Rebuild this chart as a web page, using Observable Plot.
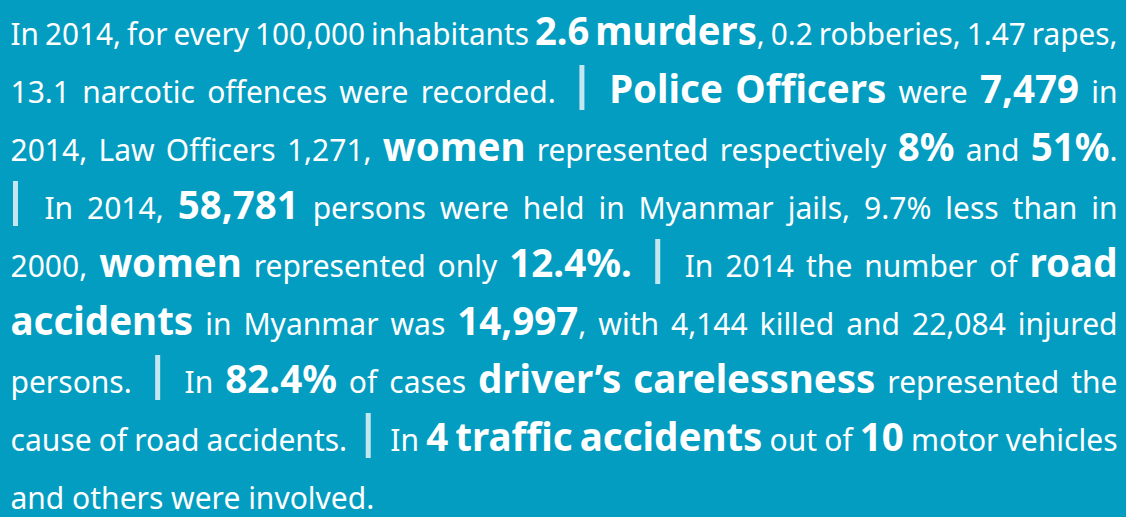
<!DOCTYPE html>
<html><head><meta charset="utf-8">
<script src="https://cdn.jsdelivr.net/npm/d3@7"></script>
<script src="https://cdn.jsdelivr.net/npm/@observablehq/plot@0.6"></script>
<style>html,body{margin:0;padding:0;background:#039dc1;overflow:hidden}</style>
</head><body><div id="chart"></div>
<script>
// Text of the infographic, one entry per printed line; **…** = highlighted (bold) figures, | = separator bar
const lines = [
  "In 2014, for every 100,000 inhabitants **2.6 murders**, 0.2 robberies, 1.47 rapes,",
  "13.1 narcotic offences were recorded. | **Police Officers** were **7,479** in",
  "2014, Law Officers 1,271, **women** represented respectively **8%** and **51%**.",
  "| In 2014, **58,781** persons were held in Myanmar jails, 9.7% less than in",
  "2000, **women** represented only **12.4%.** | In 2014 the number of **road**",
  "**accidents** in Myanmar was **14,997**, with 4,144 killed and 22,084 injured",
  "persons. | In **82.4%** of cases **driver’s carelessness** represented the",
  "cause of road accidents. | In **4 traffic accidents** out of **10** motor vehicles",
  "and others were involved."
];

const W = 1126, H = 517;
const FONT = "'Noto Sans', sans-serif";
const REG = 30, BOLD = 38.5;
const left = 10, right = 1117;
const base0 = 44, step = 58;
const barW = 5, barPad = 12;

const ctx = document.createElement("canvas").getContext("2d");
function measure(t, bold) { ctx.font = `${bold ? 700 : 400} ${bold ? BOLD : REG}px ${FONT}`; return ctx.measureText(t).width; }

function parse(line) {
  const words = []; let cur = null;
  line.split("**").forEach((part, pi) => {
    const bold = pi % 2 === 1;
    part.split(" ").forEach((t, ti) => {
      if (ti > 0) cur = null;
      if (t === "") return;
      if (t === "|" && !bold) { words.push({sep: true, pieces: []}); cur = null; return; }
      if (!cur) { cur = {sep: false, pieces: []}; words.push(cur); }
      cur.pieces.push({text: t, bold, w: measure(t, bold)});
    });
  });
  words.forEach((w, i) => {
    if (w.sep) { w.padL = i === 0 ? 3 : barPad; w.padR = barPad; w.w = w.padL + barW + w.padR; }
    else w.w = d3.sum(w.pieces, p => p.w);
  });
  return words;
}

const pieces = [], bars = [];
const space = measure(" ", false);
lines.forEach((line, li) => {
  const words = parse(line);
  const y = base0 + li * step;
  const sum = d3.sum(words, w => w.w);
  const last = li === lines.length - 1;
  const minGap = 0.2 * REG;
  let k = 1, gap = space;
  if (!last) {
    gap = (right - left - sum) / (words.length - 1);
    if (gap < minGap) { gap = minGap; k = (right - left - minGap * (words.length - 1)) / sum; }
  }
  let x = left;
  words.forEach(w => {
    if (w.sep) { bars.push({x1: x + w.padL, x2: x + w.padL + barW, y1: y - 37, y2: y + 8}); x += w.w + gap; return; }
    w.pieces.forEach(p => { pieces.push({x, y, text: p.text, bold: p.bold, len: p.w * k, k}); x += p.w * k; });
    x += gap;
  });
});

const regular = pieces.filter(p => !p.bold), bolds = pieces.filter(p => p.bold);
const chart = Plot.plot({
  width: W, height: H, margin: 0,
  x: {type: "identity", axis: null}, y: {type: "identity", axis: null},
  style: {background: "#039dc1", overflow: "hidden"},
  marks: [
    Plot.rect(bars, {x1: "x1", x2: "x2", y1: "y1", y2: "y2", fill: "#c4e6f0"}),
    Plot.text(regular, {x: "x", y: "y", text: "text", textAnchor: "start", lineAnchor: "bottom", fontSize: REG, fontWeight: 400, fontFamily: FONT, fill: "white"}),
    Plot.text(bolds, {x: "x", y: "y", text: "text", textAnchor: "start", lineAnchor: "bottom", fontSize: BOLD, fontWeight: 700, fontFamily: FONT, fill: "white"})
  ]
});
document.getElementById("chart").appendChild(chart);
// condense glyphs on lines that would otherwise overflow
const groups = chart.querySelectorAll("g[aria-label=text]");
[regular, bolds].forEach((data, gi) => {
  groups[gi].querySelectorAll("text").forEach((el, i) => {
    const d = data[i];
    if (d && d.k < 1) { el.setAttribute("textLength", d.len); el.setAttribute("lengthAdjust", "spacingAndGlyphs"); }
  });
});
</script></body></html>
